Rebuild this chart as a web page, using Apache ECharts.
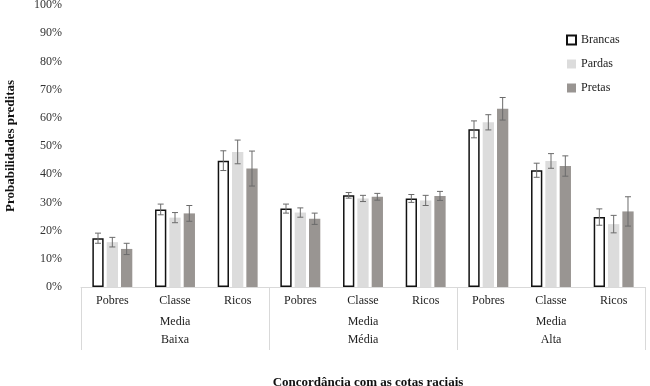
<!DOCTYPE html>
<html>
<head>
<meta charset="utf-8">
<script src="https://cdn.jsdelivr.net/npm/echarts@6/dist/echarts.min.js"></script>
<style>
  html, body { margin: 0; padding: 0; background: #fff; }
  #chart { width: 650px; height: 386px; }
</style>
</head>
<body>
<div id="chart"></div>
<script>
// classes dentro de cada nível de concordância
const categories = ['Pobres', 'Classe\nMedia', 'Ricos', 'Pobres', 'Classe\nMedia', 'Ricos', 'Pobres', 'Classe\nMedia', 'Ricos']
const groups = ['Baixa', 'Média', 'Alta']
const yTicks = [0, 10, 20, 30, 40, 50, 60, 70, 80, 90, 100]

// probabilidades preditas (%)
const brancas = [17.3, 27.5, 44.8, 27.8, 32.5, 31.4, 55.9, 41.4, 24.8]
const pardas = [15.9, 24.6, 47.9, 26.4, 31.4, 30.7, 58.4, 44.7, 22.3]
const pretas = [13.5, 26.1, 42.0, 24.2, 32.0, 32.3, 63.2, 42.9, 26.8]

// meia amplitude dos intervalos de confiança (%)
const brancasErr = [1.8, 1.9, 3.5, 1.6, 1.0, 1.4, 3.0, 2.5, 2.9]
const pardasErr = [1.7, 1.8, 4.2, 1.65, 1.1, 1.8, 2.7, 2.6, 3.1]
const pretasErr = [2.0, 2.8, 6.2, 2.0, 1.2, 1.6, 4.0, 3.6, 5.2]

const FONT = '"Liberation Serif", "DejaVu Serif", serif'
const BAR_W = 0.18   // fração da banda
const BAR_GAP = 0.27 // fração da largura da barra

const chart = echarts.init(document.getElementById('chart'))

// barra de erro alinhada com a barra da série idx (0,1,2)
function errorSeries(name, values, errs, idx) {
  return {
    type: 'custom',
    name: name + '_err',
    xAxisIndex: 0,
    yAxisIndex: 0,
    z: 5,
    silent: true,
    data: values.map((v, i) => [i, v - errs[i], v + errs[i]]),
    renderItem(params, api) {
      const band = api.size([1, 0])[0]
      const bw = band * BAR_W
      const offset = (idx - 1) * (bw + bw * BAR_GAP)
      const lo = api.coord([api.value(0), api.value(1)])
      const hi = api.coord([api.value(0), api.value(2)])
      const x = lo[0] + offset
      const cap = 3
      const style = { stroke: '#6b6b6b', lineWidth: 1 }
      return {
        type: 'group',
        children: [
          { type: 'line', shape: { x1: x, y1: lo[1], x2: x, y2: hi[1] }, style },
          { type: 'line', shape: { x1: x - cap, y1: lo[1], x2: x + cap, y2: lo[1] }, style },
          { type: 'line', shape: { x1: x - cap, y1: hi[1], x2: x + cap, y2: hi[1] }, style }
        ]
      }
    }
  }
}

chart.setOption({
  backgroundColor: '#fff',
  animation: false,
  textStyle: { fontFamily: FONT },
  grid: { left: 81, right: 5, top: 5, bottom: 99, outerBoundsMode: 'none' },
  legend: {
    orient: 'vertical',
    left: 561,
    top: 29,
    itemWidth: 9,
    itemHeight: 9,
    itemGap: 12,
    icon: 'rect',
    data: ['Brancas', 'Pardas', 'Pretas'],
    textStyle: { fontFamily: FONT, fontSize: 12, color: '#222' }
  },
  title: {
    text: 'Concordância com as cotas raciais',
    left: 363,
    top: 371,
    textAlign: 'center',
    textStyle: { fontFamily: FONT, fontSize: 13, fontWeight: 'bold', color: '#111' }
  },
  xAxis: [
    {
      type: 'category',
      data: categories,
      axisLine: { lineStyle: { color: '#d9d9d9', width: 1 } },
      axisTick: { show: false },
      axisLabel: {
        interval: 0,
        margin: 3,
        fontFamily: FONT,
        fontSize: 12,
        lineHeight: 21,
        color: '#222'
      }
    },
    {
      type: 'category',
      data: groups,
      position: 'bottom',
      axisLine: { show: false },
      axisTick: { show: true, length: 63, lineStyle: { color: '#d9d9d9' } },
      axisLabel: {
        interval: 0,
        margin: 47,
        fontFamily: FONT,
        fontSize: 12,
        color: '#222'
      }
    }
  ],
  yAxis: {
    type: 'value',
    min: yTicks[0],
    max: yTicks[yTicks.length - 1],
    interval: 10,
    name: 'Probabilidades preditas',
    nameLocation: 'middle',
    nameRotate: 90,
    nameGap: 64,
    nameTextStyle: { fontFamily: FONT, fontSize: 13, fontWeight: 'bold', color: '#111' },
    axisLine: { show: false },
    axisTick: { show: false },
    splitLine: { show: false },
    axisLabel: { margin: 19, fontFamily: FONT, fontSize: 12, color: '#333', formatter: '{value}%' }
  },
  series: [
    {
      name: 'Brancas',
      type: 'bar',
      data: brancas,
      barWidth: (BAR_W * 100) + '%',
      barGap: (BAR_GAP * 100) + '%',
      itemStyle: { color: '#fff', borderColor: '#111', borderWidth: 1.5 }
    },
    {
      name: 'Pardas',
      type: 'bar',
      data: pardas,
      barWidth: (BAR_W * 100) + '%',
      barGap: (BAR_GAP * 100) + '%',
      itemStyle: { color: '#dcdcdc' }
    },
    {
      name: 'Pretas',
      type: 'bar',
      data: pretas,
      barWidth: (BAR_W * 100) + '%',
      barGap: (BAR_GAP * 100) + '%',
      itemStyle: { color: '#999592' }
    },
    errorSeries('Brancas', brancas, brancasErr, 0),
    errorSeries('Pardas', pardas, pardasErr, 1),
    errorSeries('Pretas', pretas, pretasErr, 2)
  ]
})
</script>
</body>
</html>
